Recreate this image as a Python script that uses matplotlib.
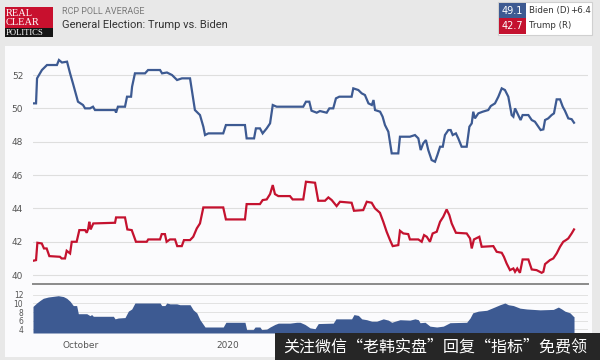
import matplotlib
matplotlib.use('Agg')
import matplotlib.pyplot as plt
from matplotlib.patches import Rectangle

# RCP poll average; x = days since early Sept 2019
biden_days = [0, 1.8, 2.4, 5.3, 8.3, 14.2, 15.4, 17.2, 20.2, 22.0,
              23.7, 26.7, 29.7, 30.9, 33.8, 35.6, 36.8, 48.7, 49.3, 50.4,
              54.6, 55.8, 58.2, 58.8, 60.5, 66.5, 68.3, 75.4, 76.6, 79.5,
              82.5, 85.5, 88.4, 93.2, 94.4, 96.1, 99.1,
              101.1, 102.1, 104.1, 112.9, 114.5, 125.8, 126.8, 131.2, 132.3, 134.7,
              136.3, 138.7, 140.7, 142.3, 144.6, 160.4, 162.0, 164.0, 165.3, 168.4,
              170.3, 174.3, 175.9, 178.2, 179.8, 181.8, 189.1, 190.1, 193.1, 195.1,
              197.0, 199.1, 201.1, 202.1, 203.0, 206.0, 207.5, 208.9, 210.9, 212.9,
              216.8, 217.8, 223.7, 226.7, 228.7, 230.1, 231.6, 233.2, 234.6, 236.6,
              238.6, 240.0, 241.6, 243.2, 244.5, 246.5, 247.9, 249.1, 251.0, 252.4,
              254.4, 257.4, 259.0, 260.4, 261.3, 262.3, 264.3, 266.9, 270.2, 271.7,
              274.2, 276.2, 278.2, 280.1, 282.1, 284.1, 285.1, 286.1, 288.0, 289.4,
              290.6, 294.0, 296.0, 297.9, 299.9, 301.3, 302.9, 303.9, 305.8, 307.8,
              309.2, 310.8, 312.8, 314.4, 315.7, 317.7, 319.7, 321.1]
biden_vals = [50.3, 50.3, 51.8, 52.3, 52.6, 52.6, 52.9, 52.75, 52.8, 52.1,
              51.5, 50.4, 50.2, 50.0, 50.0, 50.1, 49.9, 49.9, 49.75, 50.1,
              50.1, 50.7, 50.7, 51.3, 52.1, 52.1, 52.3, 52.3, 52.1, 52.15,
              52.0, 51.7, 51.8, 51.8, 51.0, 49.9, 49.6,
              48.9, 48.4, 48.5, 48.5, 49.0, 49.0, 48.2, 48.2, 48.8, 48.8,
              48.5, 48.8, 49.1, 50.2, 50.1, 50.1, 50.4, 50.4, 49.86, 49.74,
              49.84, 49.74, 50.0, 50.0, 50.6, 50.7, 50.7, 51.2, 51.1, 50.9,
              50.8, 50.3, 50.2, 50.5, 49.9, 49.8, 49.5, 49.0, 48.6, 47.3,
              47.3, 48.3, 48.3, 48.4, 48.2, 47.5, 47.9, 48.1, 47.5, 46.9,
              46.8, 47.2, 47.7, 47.7, 48.4, 48.7, 48.7, 48.4, 48.5, 48.2,
              47.7, 47.7, 48.9, 49.1, 49.8, 49.4, 49.7, 49.8, 49.9, 50.14,
              50.3, 50.7, 51.2, 51.1, 50.7, 49.6, 49.5, 50.0, 49.6, 49.3,
              49.6, 49.6, 49.3, 49.2, 48.9, 48.7, 48.74, 49.3, 49.4, 49.6,
              49.7, 50.54, 50.54, 50.1, 49.86, 49.4, 49.35, 49.14]

trump_days = [0, 1.8, 2.6, 5.2, 6.5, 8.1, 9.7, 16.0, 17.0, 19.0,
              20.0, 22.0, 23.0, 25.9, 27.5, 30.9, 31.9, 32.8, 33.4, 34.2,
              35.8, 48.7, 49.3, 54.6, 56.0, 58.6, 61.1, 67.5, 68.4, 75.4,
              76.4, 78.3, 79.3, 81.3, 84.3, 85.6, 88.3, 89.6, 93.2, 95.1,
              97.2, 99.1,
              101.1, 112.9, 114.5, 125.8, 126.8, 134.7, 136.3, 138.7, 140.7, 142.3,
              143.6, 145.6, 152.5, 154.1, 160.4, 162.0, 167.4, 169.3, 173.3, 175.3,
              177.3, 180.2, 182.2, 189.1, 190.5, 196.0, 198.1, 201.0, 203.0, 205.9,
              207.9, 209.9, 211.9, 213.5, 216.8, 217.8, 219.8, 222.7, 223.7, 228.7,
              230.7, 232.1, 233.7, 235.6, 237.2, 239.6, 241.6, 243.5, 245.5, 247.1,
              248.5, 251.0, 257.4, 259.4, 260.4, 261.7, 264.9, 266.3, 273.2, 275.2,
              278.2, 279.5, 281.1, 283.1, 285.1, 286.1, 287.4, 289.0, 290.6, 294.0,
              296.0, 298.9, 301.9, 302.9, 303.9, 306.8, 308.8, 310.8, 312.8, 314.7,
              316.3, 317.7, 319.7, 321.1]
trump_vals = [40.86, 40.9, 41.94, 41.9, 41.6, 41.6, 41.14, 41.1, 41.0, 41.0,
              41.46, 41.3, 42.0, 42.0, 42.7, 42.7, 42.54, 42.8, 43.2, 42.74,
              43.1, 43.14, 43.46, 43.46, 42.74, 42.7, 42.0, 42.0, 42.14, 42.14,
              42.46, 42.46, 42.0, 42.14, 42.14, 41.74, 41.74, 42.1, 42.1, 42.3,
              42.8, 43.1,
              44.06, 44.06, 43.34, 43.34, 44.26, 44.26, 44.5, 44.54, 44.86, 45.4,
              44.86, 44.74, 44.74, 44.54, 44.54, 45.6, 45.54, 44.46, 44.46, 44.66,
              44.5, 44.14, 44.4, 44.34, 43.86, 43.9, 44.4, 44.34, 44.0, 43.74,
              43.2, 42.6, 42.1, 41.74, 41.8, 42.66, 42.5, 42.46, 42.14, 42.14,
              42.0, 42.4, 42.3, 42.0, 42.5, 42.6, 43.2, 43.5, 43.94, 43.6,
              43.1, 42.54, 42.5, 42.2, 41.6, 42.14, 42.3, 41.7, 41.74, 41.4,
              41.34, 41.1, 40.7, 40.3, 40.4, 40.2, 40.4, 40.14, 40.94, 40.94,
              40.34, 40.3, 40.14, 40.2, 40.66, 40.9, 41.0, 41.3, 41.7, 42.0,
              42.1, 42.2, 42.5, 42.74]

spread_days = [0, 2.2, 4.2, 6.1, 9.1, 15.0, 18.0, 20.0, 22.0, 23.9,
               25.9, 26.9, 31.9, 33.8, 34.8, 35.8, 47.7, 48.7, 50.6, 54.6,
               56.6, 58.6, 60.5, 75.4, 76.4, 78.3, 79.4, 81.3, 85.3, 87.2,
               93.2, 95.1, 97.2, 99.1, 102.1, 112.9, 114.5, 125.8, 126.8, 130.7,
               131.8, 134.7, 135.7, 138.7, 140.7, 143.6, 145.6, 152.5, 156.5, 158.5,
               161.4, 164.4, 167.4, 169.3, 178.2, 179.8, 189.1, 190.5, 193.1, 195.1,
               198.1, 201.0, 204.0, 207.9, 210.9, 212.9, 217.8, 223.7, 226.7, 228.7,
               229.7, 232.7, 235.6, 239.6, 243.5, 247.5, 257.4, 259.4, 261.0, 264.3,
               269.3, 274.2, 277.2, 280.1, 282.1, 285.1, 289.0, 293.0, 300.9, 308.8,
               311.8, 313.8, 315.7, 318.7, 320.7, 321.1]
spread_vals = [9.3, 10.1, 10.7, 11.2, 11.5, 11.8, 11.6, 11.2, 10.5, 9.5,
               9.5, 7.6, 7.6, 7.15, 7.4, 7.0, 7.0, 6.4, 6.6, 6.7,
               8.2, 8.7, 10.1, 10.1, 9.5, 9.5, 10.1, 9.9, 9.9, 9.7,
               9.7, 8.5, 7.8, 6.2, 4.5, 4.5, 5.6, 5.6, 3.9, 3.9,
               4.5, 4.5, 3.9, 4.0, 4.5, 5.1, 5.4, 5.4, 5.6, 5.6,
               5.1, 4.3, 4.1, 5.3, 5.4, 6.4, 6.4, 7.4, 7.2, 6.4,
               6.2, 5.85, 5.85, 6.4, 6.1, 5.6, 6.2, 6.1, 6.4, 6.2,
               5.5, 5.6, 4.7, 4.5, 4.7, 5.5, 5.6, 6.6, 7.8, 8.2,
               8.4, 9.2, 9.7, 10.1, 9.7, 9.5, 8.9, 8.7, 8.5, 8.6,
               9.15, 8.7, 8.2, 7.8, 7.0, 6.9]

month_ticks = [28.5, 115.7]
month_labels = ['October', '2020']
main_yticks = [40, 42, 44, 46, 48, 50, 52]
spread_yticks = [4, 6, 8, 10, 12]

biden_latest = '49.1'
trump_latest = '42.7'
lead = '+6.4'

BLUE = '#3d5a92'
RED = '#c4122f'
W, H = 600, 360

fig = plt.figure(figsize=(6, 3.6), dpi=100)
fig.patch.set_facecolor('#e8e8e8')


def box(x, y, w, h, **kw):
    # pixel coords, origin top-left
    fig.patches.append(Rectangle((x / W, 1 - (y + h) / H), w / W, h / H,
                                 transform=fig.transFigure, **kw))


def txt(x, y, s, **kw):
    fig.text(x / W, 1 - y / H, s, **kw)


# white chart panel
box(5, 46, 587, 311, facecolor='#fbfbfd', edgecolor='none', zorder=-1)

# main chart
ax = fig.add_axes([33 / W, 1 - 284.3 / H, 555 / W, 234.3 / H])
ax.set_facecolor('none')
ax.plot(biden_days, biden_vals, color=BLUE, lw=1.6, solid_joinstyle='miter')
ax.plot(trump_days, trump_vals, color=RED, lw=1.6, solid_joinstyle='miter')
ax.set_xlim(0, 329.4)
ax.set_ylim(39.45, 53.5)
ax.set_yticks(main_yticks)
ax.set_xticks([])
ax.grid(axis='y', color='#dedede', lw=0.8)
ax.set_axisbelow(True)
for s in ['top', 'right', 'left']:
    ax.spines[s].set_visible(False)
ax.spines['bottom'].set_color('#8a8a8a')
ax.spines['bottom'].set_linewidth(1.4)
ax.tick_params(axis='y', length=0, pad=7, labelsize=6.5, labelcolor='#555555')

# spread panel
ax2 = fig.add_axes([33 / W, 1 - 333 / H, 555 / W, 45 / H])
ax2.set_facecolor('none')
ax2.fill_between(spread_days, spread_vals, 3.1, color=BLUE, lw=0)
ax2.set_xlim(0, 329.4)
ax2.set_ylim(3.1, 13.6)
ax2.set_yticks(spread_yticks)
ax2.set_xticks(month_ticks)
ax2.set_xticklabels(month_labels)
ax2.grid(axis='y', color='#e2e2e2', lw=0.7)
ax2.set_axisbelow(True)
for s in ax2.spines.values():
    s.set_visible(False)
ax2.tick_params(axis='y', length=0, pad=7, labelsize=5.5, labelcolor='#555555')
ax2.tick_params(axis='x', length=0, pad=6, labelsize=6.5, labelcolor='#555555')

# header: logo
box(5, 7, 48, 21, facecolor='#c8102e', edgecolor='none')
box(5, 28, 48, 9, facecolor='#151515', edgecolor='none')
txt(6, 13.5, 'REAL', color='white', fontsize=7.5, family='Liberation Serif', va='center')
txt(6, 22.5, 'CLEAR', color='white', fontsize=7.5, family='Liberation Serif', va='center')
txt(6, 33, 'POLITICS', color='white', fontsize=6.2, family='Liberation Serif', va='center')

txt(62, 11, 'RCP POLL AVERAGE', color='#7a7a7a', fontsize=6.5, family='Roboto', va='center')
txt(62, 25, 'General Election: Trump vs. Biden', color='#333333', fontsize=8,
    family='Roboto', va='center')

# header: latest values
box(498, 2, 94, 33, facecolor='white', edgecolor='#d0d0d0', lw=0.8)
box(499, 3, 27, 15, facecolor=BLUE, edgecolor='none')
box(499, 18, 27, 16, facecolor=RED, edgecolor='none')
txt(512.5, 10.5, biden_latest, color='white', fontsize=7, ha='center', va='center')
txt(512.5, 26, trump_latest, color='white', fontsize=7, ha='center', va='center')
txt(529, 10.5, 'Biden (D)', color='#333333', fontsize=6.2, va='center')
txt(591, 10.5, lead, color='#333333', fontsize=6.2, va='center', ha='right')
txt(529, 26, 'Trump (R)', color='#333333', fontsize=6.2, va='center')

# watermark band along the bottom
box(275, 333, 325, 27, facecolor='#262626', edgecolor='none', zorder=5)
fig.text(283 / W, 1 - 346.5 / H, '关注微信“老韩实盘”回复“指标”免费领',
         color='white', fontsize=11.5, va='center', zorder=6,
         family=['Noto Sans CJK SC', 'DejaVu Sans'])

fig.savefig('out.png', dpi=100, facecolor=fig.get_facecolor())
